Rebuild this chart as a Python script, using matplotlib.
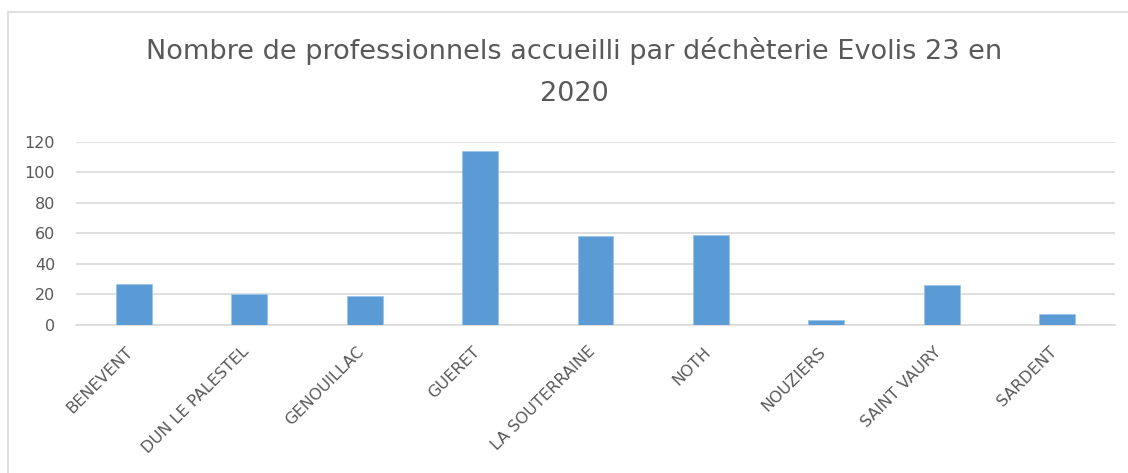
import matplotlib
matplotlib.use("Agg")
import matplotlib.pyplot as plt
import matplotlib.transforms as mtransforms
from matplotlib.patches import Rectangle

categories = ["BENEVENT", "DUN LE PALESTEL", "GENOUILLAC", "GUERET", "LA SOUTERRAINE",
              "NOTH", "NOUZIERS", "SAINT VAURY", "SARDENT"]
values = [27, 20, 19, 114, 58, 59, 3, 26, 7]
yticks = [0, 20, 40, 60, 80, 100, 120]
title = "Nombre de professionnels accueilli par déchèterie Evolis 23 en\n2020"

plt.rcParams['font.family'] = ['DejaVu Sans']
W, H = 1128, 473
fig = plt.figure(figsize=(W / 100, H / 100), dpi=100)
# chart border
fig.patches.append(Rectangle((8 / W, -0.1), 1.2, (H - 12) / H + 0.1, transform=fig.transFigure,
                             fill=False, edgecolor='#d9d9d9', linewidth=1.2))
ax = fig.add_axes([76 / W, (H - 325) / H, (1115 - 76) / W, (325 - 141.7) / H])
x = list(range(len(categories)))
ax.bar(x, values, width=0.31, color='#5b9bd5', edgecolor='#9dc3e6', linewidth=0.6, zorder=3)
ax.set_xlim(-0.5, len(categories) - 0.5)
ax.set_ylim(0, 120)
ax.set_yticks(yticks)
ax.set_yticklabels([str(t) for t in yticks], color='#595959', fontsize=11.5)
ax.set_xticks(x)
ax.set_xticklabels([])
offset = mtransforms.ScaledTranslation(-8 / 100, -19 / 100, fig.dpi_scale_trans)
for xi, name in zip(x, categories):
    ax.text(xi, 0, name, transform=ax.get_xaxis_transform() + offset, rotation=45,
            rotation_mode='anchor', ha='right', va='top', color='#595959', fontsize=11.6)
ax.tick_params(axis='both', length=0)
ax.tick_params(axis='y', pad=15)
for s in ['top', 'right', 'left']:
    ax.spines[s].set_visible(False)
ax.spines['bottom'].set_color('#d9d9d9')
ax.spines['bottom'].set_linewidth(1.2)
ax.grid(axis='y', color='#d9d9d9', linewidth=1.2, zorder=0)
ax.set_axisbelow(True)
fig.text(574 / W, 1 - 72 / H, title, ha='center', va='center', fontsize=19.5,
         color='#595959', linespacing=1.8)
fig.savefig("out.png", dpi=100)
